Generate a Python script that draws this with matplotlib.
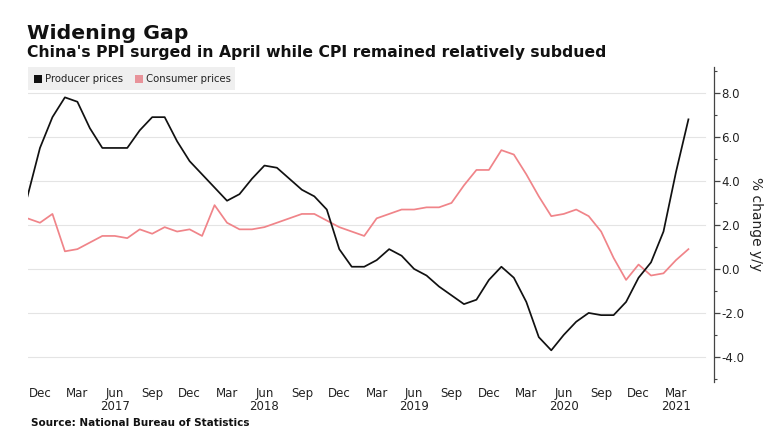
import matplotlib.pyplot as plt
from matplotlib.patches import Rectangle
from matplotlib.ticker import MultipleLocator

# monthly, Nov 2016 .. Apr 2021
ppi = [3.3, 5.5, 6.9, 7.8, 7.6, 6.4, 5.5, 5.5, 5.5, 6.3, 6.9, 6.9,
       5.8, 4.9, 4.3, 3.7, 3.1, 3.4, 4.1, 4.7, 4.6, 4.1, 3.6, 3.3,
       2.7, 0.9, 0.1, 0.1, 0.4, 0.9, 0.6, 0.0, -0.3, -0.8, -1.2, -1.6,
       -1.4, -0.5, 0.1, -0.4, -1.5, -3.1, -3.7, -3.0, -2.4, -2.0, -2.1, -2.1,
       -1.5, -0.4, 0.3, 1.7, 4.4, 6.8]
cpi = [2.3, 2.1, 2.5, 0.8, 0.9, 1.2, 1.5, 1.5, 1.4, 1.8, 1.6, 1.9,
       1.7, 1.8, 1.5, 2.9, 2.1, 1.8, 1.8, 1.9, 2.1, 2.3, 2.5, 2.5,
       2.2, 1.9, 1.7, 1.5, 2.3, 2.5, 2.7, 2.7, 2.8, 2.8, 3.0, 3.8,
       4.5, 4.5, 5.4, 5.2, 4.3, 3.3, 2.4, 2.5, 2.7, 2.4, 1.7, 0.5,
       -0.5, 0.2, -0.3, -0.2, 0.4, 0.9]
months = list(range(len(ppi)))

tick_pos = list(range(1, len(ppi), 3))
tick_labels = ["Dec", "Mar", "Jun\n2017", "Sep", "Dec", "Mar", "Jun\n2018", "Sep",
               "Dec", "Mar", "Jun\n2019", "Sep", "Dec", "Mar", "Jun\n2020", "Sep",
               "Dec", "Mar\n2021"]
yticks = [-4, -2, 0, 2, 4, 6, 8]

black = "#111111"
pink = "#f08489"

fig = plt.figure(figsize=(7.82, 4.44), dpi=100)
ax = fig.add_axes([27.5 / 782, 1 - 382 / 444, (714 - 27.5) / 782, (382 - 67) / 444])

for y in yticks:
    ax.axhline(y, xmin=0, xmax=0.987, color="#e4e4e4", lw=0.8, zorder=0)

ax.plot(months, cpi, color=pink, lw=1.25, zorder=2)
ax.plot(months, ppi, color=black, lw=1.25, zorder=3)

ax.set_xlim(0, 55.05)
ax.set_ylim(-5.14, 9.18)

for s in ["top", "left", "bottom"]:
    ax.spines[s].set_visible(False)
ax.spines["right"].set_color("#444444")
ax.spines["right"].set_linewidth(0.9)

ax.yaxis.tick_right()
ax.set_yticks(yticks)
ax.set_yticklabels([f"{v:.1f}" for v in yticks])
ax.yaxis.set_minor_locator(MultipleLocator(1))
ax.tick_params(axis="y", which="major", length=4, width=0.9, color="#444444",
               labelsize=8.5, labelcolor="#222222", pad=1)
ax.tick_params(axis="y", which="minor", length=2.5, width=0.8, color="#444444")

ax.set_xticks(tick_pos)
ax.set_xticklabels(tick_labels, linespacing=1.0)
ax.tick_params(axis="x", length=0, labelsize=8.5, labelcolor="#222222", pad=3.5)

ax.yaxis.set_label_position("right")
ax.set_ylabel("% change y/y", rotation=-90, fontsize=10, color="#222222", labelpad=14)

# legend box
fig.patches.append(Rectangle((28 / 782, 1 - 90 / 444), 207 / 782, 23 / 444,
                             transform=fig.transFigure, facecolor="#efefef",
                             edgecolor="none", zorder=0))
fig.patches.append(Rectangle((34 / 782, 1 - 83 / 444), 8 / 782, 8 / 444,
                             transform=fig.transFigure, facecolor=black, edgecolor="none"))
fig.text(45 / 782, 1 - 79 / 444, "Producer prices", fontsize=7.3, va="center", color="#222222")
fig.patches.append(Rectangle((135 / 782, 1 - 83 / 444), 8 / 782, 8 / 444,
                             transform=fig.transFigure, facecolor="#e8939a", edgecolor="none"))
fig.text(146 / 782, 1 - 79 / 444, "Consumer prices", fontsize=7.3, va="center", color="#222222")

fig.text(27 / 782, 1 - 39 / 444, "Widening Gap", fontsize=14.7, fontweight="bold",
         va="baseline", color="#111111")
fig.text(27 / 782, 1 - 57 / 444,
         "China's PPI surged in April while CPI remained relatively subdued",
         fontsize=11.25, fontweight="bold", va="baseline", color="#111111")
fig.text(31 / 782, 1 - 423 / 444, "Source: National Bureau of Statistics",
         fontsize=7.5, fontweight="bold", va="center", color="#111111")

fig.savefig("out.png", dpi=100)
